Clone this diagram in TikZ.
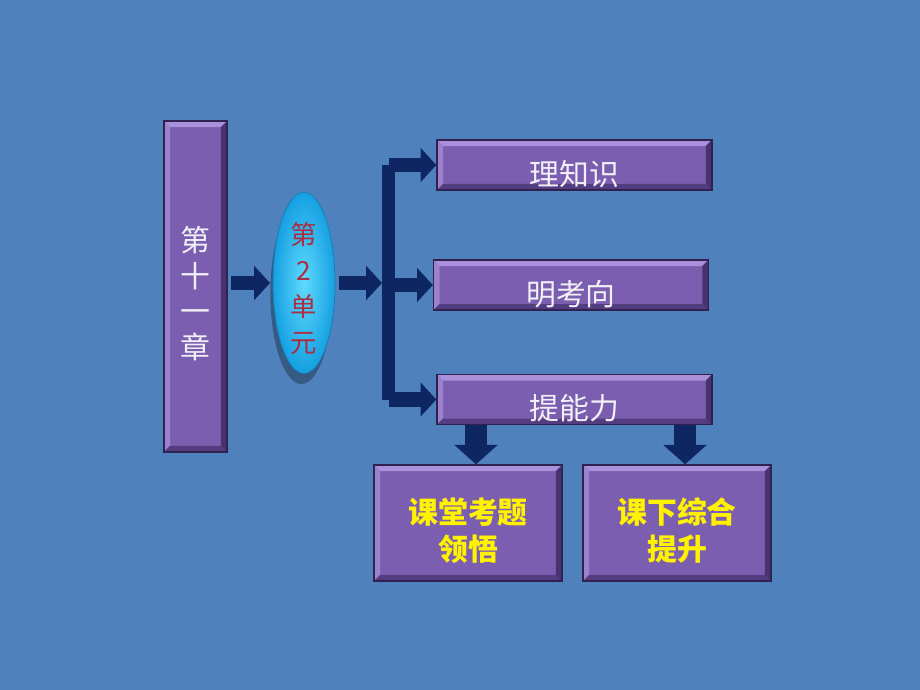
\documentclass[tikz,border=0pt]{standalone}
\usepackage{fontspec}
\newfontfamily\cjk{Noto Sans CJK SC}
\usetikzlibrary{arrows.meta,shapes.geometric,shadows}

\definecolor{bgblue}{RGB}{79,129,189}
\definecolor{navy}{RGB}{14,38,98}
\definecolor{boxpurple}{RGB}{124,94,176}
\definecolor{boxlight}{RGB}{168,144,218}
\definecolor{boxshade}{RGB}{84,60,128}
\definecolor{boxdark}{RGB}{48,34,80}
\definecolor{unitin}{RGB}{95,218,252}
\definecolor{unitout}{RGB}{22,160,226}
\definecolor{unitred}{RGB}{172,44,66}
\definecolor{softwhite}{RGB}{240,240,246}

\newcommand\bv{0.12cm}

\tikzset{
  bevelbox/.style={rectangle, fill=boxpurple, draw=boxdark, line width=0.8pt, inner sep=0pt,
    path picture={
      \coordinate (pnw) at (path picture bounding box.north west);
      \coordinate (pne) at (path picture bounding box.north east);
      \coordinate (psw) at (path picture bounding box.south west);
      \coordinate (pse) at (path picture bounding box.south east);
      \fill[boxlight] (pnw) -- (pne) -- ([shift={(-\bv,-\bv)}]pne) -- ([shift={(\bv,-\bv)}]pnw) -- cycle;
      \fill[boxlight!70!boxpurple] (pnw) -- (psw) -- ([shift={(\bv,\bv)}]psw) -- ([shift={(\bv,-\bv)}]pnw) -- cycle;
      \fill[boxshade] (psw) -- (pse) -- ([shift={(-\bv,\bv)}]pse) -- ([shift={(\bv,\bv)}]psw) -- cycle;
      \fill[boxshade!85!black] (pne) -- (pse) -- ([shift={(-\bv,\bv)}]pse) -- ([shift={(-\bv,-\bv)}]pne) -- cycle;
    }},
  stepname/.style={bevelbox, minimum width=5.5cm, minimum height=1cm,
    text height=23pt, text depth=0pt,
    font=\cjk\fontsize{17}{21}\selectfont, text=softwhite},
  taskbox/.style={bevelbox, minimum width=3.76cm, minimum height=2.32cm, align=center,
    text height=43pt, text depth=0pt,
    font=\cjk\bfseries\fontsize{17}{21}\selectfont, text=yellow},
  unitoval/.style={ellipse, minimum width=1.24cm, minimum height=3.62cm, inner sep=0pt,
    inner color=unitin, outer color=unitout, draw=unitout!80!black, line width=0.4pt,
    drop shadow={shadow xshift=-1.5pt, shadow yshift=-6pt, opacity=0.3, fill=black}},
  navyarrow/.style={draw=navy, line width=8.5pt, -{Triangle[width=19pt,length=9pt]}},
  downarrow/.style={draw=navy, line width=12.5pt, -{Triangle[width=24pt,length=11pt]}},
}

\begin{document}
\begin{tikzpicture}[x=0.02cm,y=-0.02cm]
\fill[bgblue] (0,0) rectangle (920,690);
\useasboundingbox (0,0) rectangle (920,690);

% chapter and unit
\node[bevelbox, minimum width=1.26cm, minimum height=6.62cm,
  label={[align=center, text=softwhite, font=\cjk\fontsize{17}{20.4}\selectfont, yshift=-4pt]center:第\\十\\一\\章}] (chap) at (195.5,286.5) {};
\node[unitoval,
  label={[align=center, text=unitred, font=\cjk\fontsize{15}{20.4}\selectfont, yshift=-3pt]center:第\\2\\单\\元}] (unit) at (304,283) {};

% three steps
\node[stepname] (know) at (574.5,165) {理知识};
\node[stepname] (exam) at (571,285) {明考向};
\node[stepname] (abil) at (574.5,399.5) {提能力};

% two tasks
\node[taskbox] (class) at (468,523) {课堂考题\\领悟};
\node[taskbox] (home) at (677,523) {课下综合\\提升};

% bracket
\coordinate (fork) at (382,283);
\coordinate (bartop) at (388.5,165);
\coordinate (barbot) at (388.5,399.5);
\draw[navy, line width=7.4pt, line cap=square] (bartop) -- (barbot);

\draw[navyarrow, shorten <=2pt, shorten >=1.5pt] (chap.east |- unit.west) -- (unit.west);
\draw[navyarrow, shorten <=2pt] (unit) -- (fork);
\draw[navyarrow] (bartop) -- (know.west);
\draw[navyarrow] (bartop |- exam.west) -- (exam.west);
\draw[navyarrow] (barbot) -- (abil.west);

\draw[downarrow] ([xshift=0.16cm]class.north |- abil.south) -- ([xshift=0.16cm]class.north);
\draw[downarrow] ([xshift=0.16cm]home.north |- abil.south) -- ([xshift=0.16cm]home.north);
\end{tikzpicture}
\end{document}
